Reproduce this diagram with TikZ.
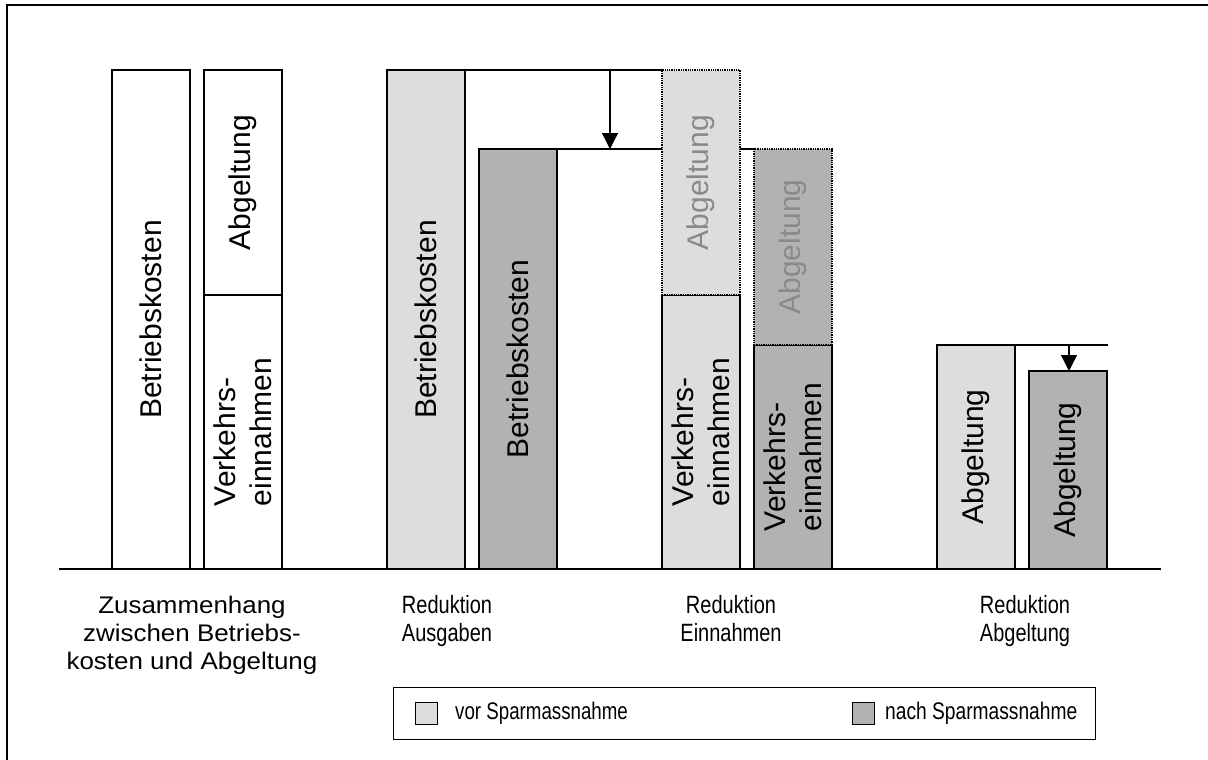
\documentclass[tikz,border=0pt]{standalone}
\usepackage{fontspec}
\setmainfont{Liberation Sans}
\usetikzlibrary{arrows.meta}
\definecolor{lg}{HTML}{DDDDDD}
\definecolor{dg}{HTML}{B2B2B2}
\definecolor{gt}{HTML}{8A8A8A}
\newcommand{\hlab}[2]{\scalebox{#1}[1]{\begin{tabular}{@{}c@{}}#2\end{tabular}}}
\begin{document}
\begin{tikzpicture}[x=1pt,y=-1pt,
  bar/.style={draw=black, line width=1.3pt, anchor=north west, inner sep=0pt, outer sep=0pt},
  dotbar/.style={bar, line width=1.6pt, dash pattern=on 1.3pt off 1pt},
  vlab/.style={rotate=90, inner sep=0pt, font=\fontsize{30}{36}\selectfont, align=left},
  glab/.style={vlab, text=gt},
  conn/.style={draw=black, line width=1.3pt},
  arr/.style={conn, -{Triangle[width=16pt,length=16pt]}},
  swatch/.style={draw=black, line width=1pt, minimum width=22pt, minimum height=22pt, inner sep=0pt, anchor=north west},
  ltext/.style={inner sep=0pt, anchor=west, font=\fontsize{24}{28}\selectfont}
]
\useasboundingbox (0,0) rectangle (1208,760);
% frame
\coordinate (fbl) at (7,760);
\coordinate (ftl) at (7,5);
\coordinate (ftr) at (1208,5);
\draw[line width=1.5pt] (fbl) -- (ftl) -- (ftr);
% baseline
\coordinate (bl0) at (59,569);
\coordinate (bl1) at (1161,569);
\draw[conn] (bl0) -- (bl1);

% bars group 1
\node[bar, fill=white, minimum width=78pt, minimum height=499pt] (b1) at (112,70) {};
\node[bar, fill=white, minimum width=78pt, minimum height=225pt] (b2u) at (204,70) {};
\node[bar, fill=white, minimum width=78pt, minimum height=274pt] (b2l) at (204,295) {};
\node[vlab] at (b1.center) {Betriebskosten};
\node[vlab] at (b2u.center) {Abgeltung};
\node[vlab] at (b2l.center) {Verkehrs-\\einnahmen};

% connector lines for group 2/3 (drawn first)
\coordinate (top1) at (662,70);
\coordinate (top2) at (754,149);
\draw[conn] (465,70) coordinate (t1s) -- (top1);
\draw[conn] (557,149) coordinate (t2s) -- (top2);
\coordinate (a1s) at (610,70);
\coordinate (a1e) at (610,149);
\draw[arr] (a1s) -- (a1e);

% group 2
\node[bar, fill=lg, minimum width=78pt, minimum height=499pt] (b3) at (387,70) {};
\node[bar, fill=dg, minimum width=78pt, minimum height=420pt] (b4) at (479,149) {};
\node[vlab] at (b3.center) {Betriebskosten};
\node[vlab] at (b4.center) {Betriebskosten};

% group 3
\node[bar, fill=lg, minimum width=78pt, minimum height=274pt] (b5l) at (662,295) {};
\node[dotbar, fill=lg, minimum width=78pt, minimum height=225pt] (b5u) at (662,70) {};
\node[bar, fill=dg, minimum width=78pt, minimum height=224pt] (b6l) at (754,345) {};
\node[dotbar, fill=dg, minimum width=78pt, minimum height=196pt] (b6u) at (754,149) {};
\node[glab] at (b5u.center) {Abgeltung};
\node[glab] at (b6u.center) {Abgeltung};
\node[vlab] at (b5l.center) {Verkehrs-\\einnahmen};
\node[vlab] at (b6l.center) {Verkehrs-\\einnahmen};

% group 4
\coordinate (t3e) at (1108,345);
\draw[conn] (1015,345) coordinate (t3s) -- (t3e);
\coordinate (a2s) at (1069,345);
\coordinate (a2e) at (1069,371);
\draw[arr] (a2s) -- (a2e);
\node[bar, fill=lg, minimum width=78pt, minimum height=224pt] (b7) at (937,345) {};
\node[bar, fill=dg, minimum width=78pt, minimum height=198pt] (b8) at (1029,371) {};
\node[vlab] at (b7.center) {Abgeltung};
\node[vlab] at (b8.center) {Abgeltung};

% category labels
\node[inner sep=0pt, font=\fontsize{24}{28}\selectfont] (c1) at (192,636) {\hlab{1.08}{Zusammenhang\\zwischen Betriebs-\\kosten und Abgeltung}};
\node[inner sep=0pt, font=\fontsize{25}{28}\selectfont] (c2) at (447,622) {\hlab{0.8}{Reduktion\\Ausgaben}};
\node[inner sep=0pt, font=\fontsize{25}{28}\selectfont] (c3) at (731,622) {\hlab{0.8}{Reduktion\\Einnahmen}};
\node[inner sep=0pt, font=\fontsize{25}{28}\selectfont] (c4) at (1025,622) {\hlab{0.8}{Reduktion\\Abgeltung}};

% legend
\node[draw=black, line width=1.3pt, anchor=north west, minimum width=702pt, minimum height=52pt, inner sep=0pt] (leg) at (393,687) {};
\node[swatch, fill=lg] (s1) at (415,702) {};
\node[ltext] (l1) at (455,713) {\scalebox{0.78}[1]{vor Sparmassnahme}};
\node[swatch, fill=dg] (s2) at (852,702) {};
\node[ltext] (l2) at (885,713) {\scalebox{0.8}[1]{nach Sparmassnahme}};
\end{tikzpicture}
\end{document}
